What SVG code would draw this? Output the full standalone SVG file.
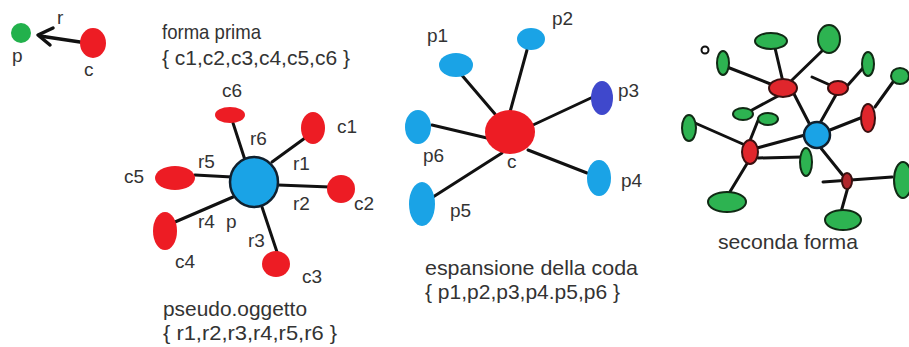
<svg xmlns="http://www.w3.org/2000/svg" width="909" height="347" viewBox="0 0 909 347">
  <style>
    text { font-family: "Liberation Sans", Arial, sans-serif; fill: #333; }
    .lbl { font-size: 19px; }
    .ttl { font-size: 21px; }
    .edge { stroke: #111; stroke-width: 3; stroke-linecap: round; fill: none; }
    .red { fill: #ed1c24; }
    .redo { fill: #e0262c; stroke: #3a1010; stroke-width: 2; }
    .cyan { fill: #1aa3e6; }
    .cyano { fill: #1aa3e6; stroke: #10202e; stroke-width: 2.5; }
    .indigo { fill: #3f48cc; }
    .grn { fill: #22b14c; }
    .grno { fill: #2db351; stroke: #102a14; stroke-width: 2; }
  </style>
  <rect width="909" height="347" fill="#fff"/>

  <!-- connectors -->
  <g id="connectors" class="edge">
    <!-- r: c -> p, with a hand-drawn chevron head -->
    <line x1="80" y1="42" x2="40" y2="36" stroke-width="3.5"/>
    <path d="M53,28 L38,35 L50,45" stroke-width="3.5" stroke-linejoin="round"/>
    <!-- pseudo-oggetto spokes -->
    <line x1="272" y1="162" x2="305" y2="138"/>
    <line x1="278" y1="185" x2="330" y2="187"/>
    <line x1="262" y1="207" x2="277" y2="252"/>
    <line x1="233" y1="197" x2="175" y2="222"/>
    <line x1="195" y1="175" x2="232" y2="177"/>
    <line x1="233" y1="123" x2="245" y2="160"/>
    <!-- espansione della coda spokes -->
    <line x1="460" y1="73" x2="495" y2="114"/>
    <line x1="527" y1="50" x2="510" y2="112"/>
    <line x1="593" y1="97" x2="533" y2="125"/>
    <line x1="587" y1="173" x2="528" y2="150"/>
    <line x1="433" y1="197" x2="502" y2="153"/>
    <line x1="432" y1="125" x2="487" y2="138"/>
    <!-- seconda forma -->
    <line x1="775" y1="48" x2="783" y2="82"/>
    <line x1="823" y1="50" x2="790" y2="82"/>
    <line x1="727" y1="67" x2="773" y2="85"/>
    <line x1="793" y1="92" x2="810" y2="125"/>
    <line x1="752" y1="110" x2="778" y2="96"/>
    <line x1="812" y1="77" x2="830" y2="85"/>
    <line x1="837" y1="93" x2="820" y2="123"/>
    <line x1="848" y1="85" x2="863" y2="68"/>
    <line x1="830" y1="130" x2="863" y2="117"/>
    <line x1="875" y1="107" x2="893" y2="82"/>
    <line x1="695" y1="123" x2="745" y2="145"/>
    <line x1="759" y1="118" x2="749" y2="143"/>
    <line x1="757" y1="148" x2="805" y2="135"/>
    <line x1="758" y1="158" x2="802" y2="157"/>
    <line x1="748" y1="162" x2="728" y2="195"/>
    <line x1="820" y1="147" x2="845" y2="178"/>
    <line x1="823" y1="182" x2="892" y2="177"/>
    <line x1="848" y1="187" x2="841" y2="212"/>
  </g>

  <!-- top-left: c points to p through r -->
  <g id="p0"><circle class="grn" cx="21" cy="33" r="10"/><text class="lbl" x="12" y="62">p</text></g>
  <g id="c0"><ellipse class="red" cx="93" cy="43" rx="13" ry="15"/><text class="lbl" x="84" y="76">c</text></g>
  <text class="lbl" x="57" y="24">r</text>

  <!-- forma prima / pseudo-oggetto -->
  <text class="ttl" x="162" y="39" textLength="99" lengthAdjust="spacingAndGlyphs">forma prima</text>
  <text class="ttl" x="162" y="65" textLength="188" lengthAdjust="spacingAndGlyphs">{ c1,c2,c3,c4,c5,c6 }</text>
  <g id="p"><ellipse class="cyano" cx="254" cy="182" rx="24" ry="25"/><text class="lbl" x="226" y="228">p</text></g>
  <g id="c1"><ellipse class="red" cx="313" cy="128" rx="12" ry="16"/><text class="lbl" x="337" y="133">c1</text></g>
  <g id="c2"><ellipse class="red" cx="341" cy="189" rx="14" ry="14"/><text class="lbl" x="354" y="210">c2</text></g>
  <g id="c3"><ellipse class="red" cx="276" cy="264" rx="14" ry="13"/><text class="lbl" x="302" y="283">c3</text></g>
  <g id="c4"><ellipse class="red" cx="165" cy="231" rx="12" ry="19"/><text class="lbl" x="175" y="268">c4</text></g>
  <g id="c5"><ellipse class="red" cx="175" cy="178" rx="20" ry="12"/><text class="lbl" x="124" y="183">c5</text></g>
  <g id="c6"><ellipse class="red" cx="230" cy="115" rx="15" ry="8"/><text class="lbl" x="222" y="97">c6</text></g>
  <g id="r-labels">
    <text class="lbl" x="250" y="145">r6</text>
    <text class="lbl" x="293" y="170">r1</text>
    <text class="lbl" x="198" y="168">r5</text>
    <text class="lbl" x="293" y="210">r2</text>
    <text class="lbl" x="198" y="228">r4</text>
    <text class="lbl" x="248" y="247">r3</text>
  </g>
  <text class="ttl" x="163" y="316" textLength="144" lengthAdjust="spacingAndGlyphs">pseudo.oggetto</text>
  <text class="ttl" x="163" y="340" textLength="174" lengthAdjust="spacingAndGlyphs">{ r1,r2,r3,r4,r5,r6 }</text>

  <!-- espansione della coda -->
  <g id="c"><ellipse class="red" cx="510" cy="132" rx="25" ry="22"/><text class="lbl" x="507" y="168">c</text></g>
  <g id="p1"><ellipse class="cyan" cx="456" cy="65" rx="17" ry="12"/><text class="lbl" x="427" y="42">p1</text></g>
  <g id="p2"><ellipse class="cyan" cx="531" cy="39" rx="14" ry="11"/><text class="lbl" x="552" y="25">p2</text></g>
  <g id="p3"><ellipse class="indigo" cx="602" cy="98" rx="11" ry="17"/><text class="lbl" x="618" y="97">p3</text></g>
  <g id="p4"><ellipse class="cyan" cx="599" cy="178" rx="12" ry="18"/><text class="lbl" x="621" y="187">p4</text></g>
  <g id="p5"><ellipse class="cyan" cx="422" cy="204" rx="13" ry="22"/><text class="lbl" x="450" y="217">p5</text></g>
  <g id="p6"><ellipse class="cyan" cx="418" cy="127" rx="13" ry="17"/><text class="lbl" x="423" y="162">p6</text></g>
  <text class="ttl" x="425" y="275" textLength="213" lengthAdjust="spacingAndGlyphs">espansione della coda</text>
  <text class="ttl" x="425" y="299" textLength="195" lengthAdjust="spacingAndGlyphs">{ p1,p2,p3,p4.p5,p6 }</text>

  <!-- seconda forma -->
  <g id="dot"><circle cx="705" cy="50" r="3.5" fill="#fff" stroke="#111" stroke-width="2"/></g>
  <g id="hub"><ellipse class="cyano" cx="817" cy="135" rx="13" ry="13"/></g>
  <g id="ra"><ellipse class="redo" cx="783" cy="88" rx="14" ry="9"/></g>
  <g id="rb"><ellipse class="redo" cx="838" cy="88" rx="10" ry="7"/></g>
  <g id="rc"><ellipse class="redo" cx="868" cy="118" rx="7" ry="14"/></g>
  <g id="rd"><ellipse class="redo" cx="750" cy="152" rx="8" ry="12"/></g>
  <g id="re"><ellipse class="redo" cx="847" cy="181" rx="5" ry="8" style="fill:#b0262c"/></g>
  <g id="g1"><ellipse class="grno" cx="771" cy="41" rx="16" ry="8"/></g>
  <g id="g2"><ellipse class="grno" cx="829" cy="39" rx="11" ry="14"/></g>
  <g id="g3"><ellipse class="grno" cx="723" cy="63" rx="6" ry="12"/></g>
  <g id="g4"><ellipse class="grno" cx="868" cy="64" rx="6" ry="12"/></g>
  <g id="g5"><ellipse class="grno" cx="900" cy="76" rx="9" ry="8"/></g>
  <g id="g6"><ellipse class="grno" cx="743" cy="114" rx="10" ry="6"/></g>
  <g id="g7"><ellipse class="grno" cx="768" cy="119" rx="10" ry="6"/></g>
  <g id="g8"><ellipse class="grno" cx="689" cy="128" rx="7" ry="13"/></g>
  <g id="g9"><ellipse class="grno" cx="806" cy="162" rx="6" ry="14"/></g>
  <g id="g10"><ellipse class="grno" cx="727" cy="202" rx="19" ry="10"/></g>
  <g id="g11"><ellipse class="grno" cx="843" cy="220" rx="18" ry="10"/></g>
  <g id="g12"><ellipse class="grno" cx="903" cy="180" rx="9" ry="18"/></g>
  <text class="ttl" x="718" y="249" textLength="140" lengthAdjust="spacingAndGlyphs">seconda forma</text>
</svg>
